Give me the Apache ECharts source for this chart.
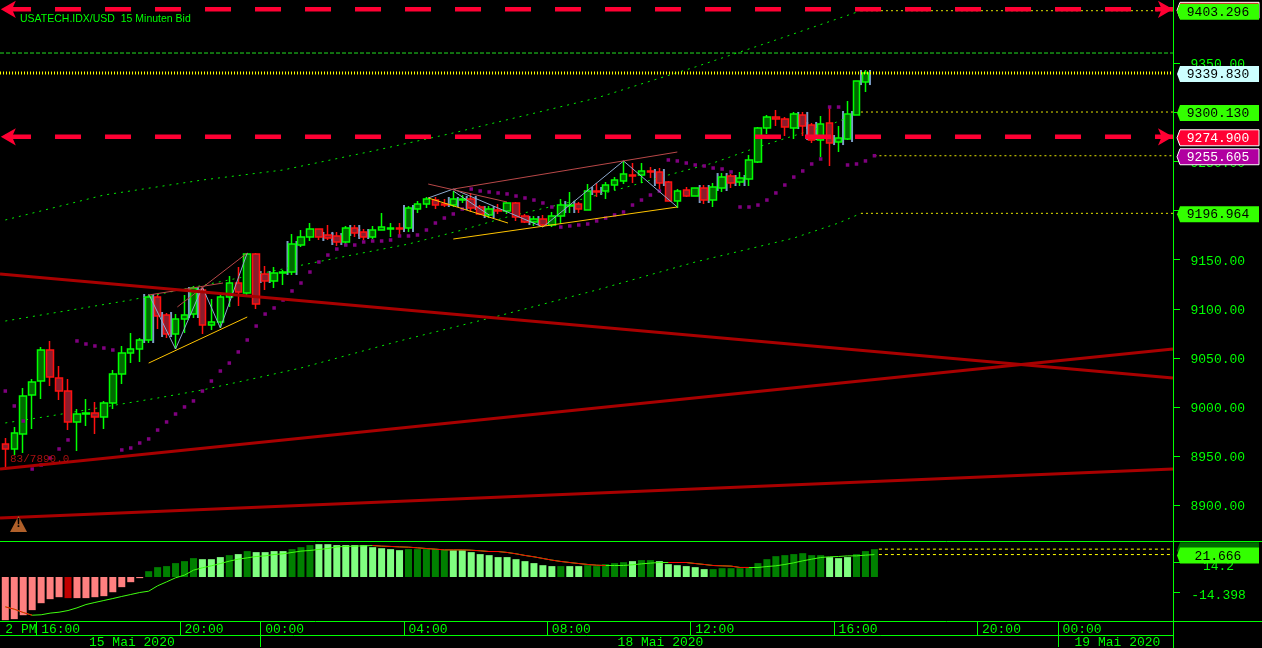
<!DOCTYPE html>
<html><head><meta charset="utf-8">
<style>html,body{margin:0;padding:0;background:#000;overflow:hidden}#c{width:1262px;height:648px}</style>
<script src="https://cdn.jsdelivr.net/npm/echarts@6/dist/echarts.min.js"></script>
</head><body><div id="c"></div>
<script>
// ---- data ----
const open = [8962.1,8957.0,8972.3,9012.0,9026.2,9057.8,9029.3,9016.0,8984.5,8992.6,8993.6,8989.6,9003.8,9033.4,9054.7,9058.8,9068.0,9111.8,9093.4,9074.1,9089.4,9094.4,9118.9,9083.3,9086.3,9111.8,9126.0,9115.8,9155.6,9135.2,9128.1,9136.2,9137.2,9164.7,9172.9,9181.0,9174.9,9173.9,9167.8,9182.0,9178.0,9172.9,9180.0,9181.0,9182.0,9182.0,9201.4,9206.5,9210.5,9206.5,9205.4,9210.5,9211.6,9203.4,9195.3,9200.4,9199.3,9207.5,9194.2,9188.1,9191.2,9185.1,9194.2,9204.4,9206.5,9200.4,9219.7,9219.7,9225.8,9229.9,9236.0,9236.0,9240.1,9239.1,9228.9,9209.5,9220.7,9214.6,9222.8,9210.5,9222.8,9235.0,9228.9,9231.9,9249.2,9283.9,9295.1,9293.0,9283.9,9297.1,9286.9,9271.6,9288.9,9269.6,9272.7,9297.1,9330.7];
const close = [8957.0,8973.3,9011.0,9025.2,9057.8,9030.3,9016.0,8984.5,8992.6,8993.6,8989.6,9003.8,9033.4,9054.7,9058.8,9068.0,9111.8,9092.4,9074.1,9089.4,9093.4,9120.9,9083.3,9086.3,9111.8,9126.0,9116.8,9155.6,9104.6,9128.1,9136.2,9137.2,9165.7,9172.9,9181.0,9172.9,9171.8,9167.8,9182.0,9176.9,9172.9,9180.0,9183.0,9182.0,9181.0,9202.4,9206.5,9211.6,9205.4,9205.4,9211.6,9211.6,9202.4,9196.3,9201.4,9199.3,9207.5,9193.2,9188.1,9191.2,9185.1,9194.2,9205.4,9205.4,9201.4,9219.7,9218.7,9225.8,9230.9,9237.0,9235.0,9240.1,9239.1,9227.8,9209.5,9219.7,9214.6,9222.8,9210.5,9223.8,9233.9,9227.8,9232.9,9251.3,9283.9,9295.1,9293.0,9284.9,9298.1,9285.9,9271.6,9287.9,9268.6,9273.7,9298.1,9331.7,9339.83];
const low = [8935.6,8950.9,8952.9,8977.3,9007.9,9021.1,9006.9,8976.3,8954.9,8980.4,8972.3,8977.3,8997.7,9023.2,9044.5,9045.6,9064.9,9079.2,9070.0,9058.8,9075.1,9090.4,9074.1,9078.2,9080.2,9101.6,9102.6,9113.8,9099.5,9118.9,9120.9,9124.0,9134.2,9162.7,9168.8,9169.8,9169.8,9163.7,9165.7,9172.9,9169.8,9170.8,9180.0,9172.9,9173.9,9178.0,9197.3,9202.4,9201.4,9203.4,9203.4,9207.5,9198.3,9195.3,9192.2,9196.3,9196.3,9189.2,9187.1,9184.1,9183.0,9183.0,9186.1,9197.3,9197.3,9200.4,9213.6,9211.6,9220.7,9226.8,9227.8,9227.8,9232.9,9221.7,9209.5,9202.4,9213.6,9214.6,9206.5,9203.4,9218.7,9222.8,9224.8,9224.8,9248.2,9277.7,9285.9,9275.7,9272.7,9275.7,9268.6,9254.3,9245.2,9259.4,9271.6,9297.1,9320.5];
const high = [8968.2,8979.4,9019.1,9028.3,9060.8,9067.0,9041.5,9028.3,8997.7,9007.9,9004.8,9005.9,9037.4,9061.9,9075.1,9070.0,9113.8,9113.8,9095.5,9094.4,9113.8,9123.0,9121.9,9109.7,9115.8,9133.1,9142.3,9156.6,9156.6,9143.3,9142.3,9139.3,9175.9,9180.0,9187.1,9181.0,9185.1,9178.0,9184.1,9185.1,9181.0,9184.1,9197.3,9187.1,9187.1,9204.4,9209.5,9213.6,9213.6,9211.6,9219.7,9215.6,9217.7,9205.4,9204.4,9206.5,9208.5,9208.5,9196.3,9194.2,9195.3,9198.3,9211.6,9218.7,9208.5,9226.8,9227.8,9228.9,9233.9,9250.3,9248.2,9248.2,9244.1,9243.1,9229.9,9221.7,9223.8,9222.8,9225.8,9227.8,9238.0,9237.0,9239.1,9256.4,9284.9,9297.1,9302.2,9295.1,9300.2,9300.2,9288.9,9296.1,9304.2,9285.9,9311.4,9331.7,9342.9];
const psar = [9016.0,9000.8,8985.5,8936.6,8940.7,8947.8,8957.0,8966.2,9067.0,9063.9,9061.9,9059.8,9057.8,8956.0,8958.0,8963.1,8967.2,8976.3,8984.5,8992.6,8999.8,9005.9,9016.0,9026.2,9036.4,9044.5,9055.8,9068.0,9082.2,9094.4,9100.6,9108.7,9117.9,9126.0,9137.2,9147.4,9154.5,9160.6,9164.7,9164.7,9167.8,9168.8,9168.8,9169.8,9173.9,9173.9,9174.9,9180.0,9187.1,9192.2,9196.3,9201.4,9221.7,9219.7,9218.7,9217.7,9216.7,9214.6,9212.6,9210.5,9207.5,9203.4,9183.0,9184.1,9185.1,9186.1,9189.2,9192.2,9195.3,9198.3,9205.4,9210.5,9215.6,9219.7,9251.3,9250.3,9248.2,9246.2,9245.2,9243.1,9242.1,9239.1,9203.4,9203.4,9205.4,9210.5,9217.7,9225.8,9233.9,9240.1,9247.2,9252.3,9305.2,9305.2,9246.2,9247.2,9250.3,9255.6];

const upperBand = [[0,9190.2],[11,9215.6],[22,9230.9],[31,9241.1],[41,9260.4],[50,9278.8],[55,9290.0],[66,9314.4],[77,9346.0],[86,9373.5],[95.5,9403.296]];
const middleBand = [[0,9087.3],[14,9108.7],[37,9151.5],[45,9165.7],[51,9180.0],[56,9193.2],[64,9210.5],[69,9222.8],[74,9236.0],[79,9248.2],[84,9264.5],[89,9278.8],[92,9286.9],[95.5,9300.13]];
const lowerBand = [[0,8983.5],[5,8990.6],[11,8999.8],[17,9008.9],[22,9017.1],[27,9027.2],[33,9039.5],[44,9067.0],[55,9092.4],[66,9118.9],[77,9147.4],[88,9171.8],[93,9187.1],[95.5,9196.964]];

const bracketIdx  = [16,18,21,29,32,36,37,39,40,45,50,52,54,59,63,66,73,78,80,82,89,90,93,94,96];
const bracketHigh = [9114.8,9096.5,9121.9,9138.2,9168.8,9178.0,9176.9,9185.1,9181.0,9205.4,9213.6,9214.6,9204.4,9194.2,9209.5,9223.8,9242.1,9225.8,9238.0,9236.0,9300.2,9290.0,9276.7,9301.2,9342.9];
const bracketLow  = [9064.9,9071.0,9090.4,9126.0,9134.2,9168.8,9164.7,9173.9,9170.8,9178.0,9203.4,9200.4,9192.2,9185.1,9197.3,9215.6,9224.8,9207.5,9219.7,9224.8,9282.8,9271.6,9266.5,9269.6,9327.6];

const zigzagA = [[16,9114.8],[19,9058.8],[22,9121.9],[24,9080.2],[27,9156.6]];
const zigzagB = [[47.2,9212.6],[50,9221.7],[60,9183.0],[69,9250.3],[75,9203.4]];
const zigzagC = [[50,9219.7],[54,9195.3]];
const yellowA = [[16,9044.5],[27,9091.4]];
const yellowB = [[47.2,9212.6],[56.1,9187.1]];
const yellowC = [[50,9170.8],[75,9203.4]];
const salmonA = [[16,9113.8],[24.3,9126.0]];
const salmonB = [[19.2,9101.6],[27,9156.6]];
const salmonC = [[47.2,9226.8],[56,9208.5]];
const salmonD = [[50,9221.7],[75,9259.4]];

const trendA = [[-0.59,9135.2],[130.32,9029.3]];
const trendB = [[-0.59,8936.6],[130.32,9058.8]];
const trendC = [[-0.59,8886.7],[130.32,8936.6]];

const axisEnd = 130.32;
const arrowLevels = [9404.7,9274.9];
const bidLevel = 9339.83;
const topLevel = 9360.2;
const rightLevels = [[95.5,9403.296],[95.5,9300.13],[97,9255.605],[95.5,9196.964]];

const histogram = [-41.7,-40.7,-36.9,-32.0,-25.3,-21.4,-19.5,-20.4,-20.4,-20.4,-19.5,-18.5,-14.7,-9.8,-5.0,-1.1,5.6,9.5,10.5,13.4,15.3,18.2,17.2,17.2,19.2,21.1,22.1,25.0,24.0,24.0,25.0,25.0,26.9,28.8,30.8,31.7,31.7,30.8,30.8,30.8,30.8,28.8,27.8,26.9,25.9,26.9,26.9,26.9,26.9,25.9,25.9,25.9,24.0,22.1,21.1,19.2,19.2,17.2,15.3,13.4,11.4,10.5,10.5,10.5,10.5,11.4,10.5,12.4,13.4,14.3,15.3,16.3,16.3,15.3,12.4,11.4,10.5,9.5,7.6,7.6,8.5,8.5,8.5,9.5,13.4,17.2,20.1,21.1,22.1,23.0,21.1,21.1,19.2,18.2,19.2,22.1,25.0,26.9];
const histDarkRed = [7];
const histLightGreen = [22,23,24,26,28,29,30,31,35,36,37,38,39,40,41,42,43,44,50,51,52,53,54,55,56,57,58,59,60,61,63,64,70,73,74,75,76,77,78,92,93,94];
const signal = [-28.8,-31.1,-34.3,-36.9,-36.5,-34.9,-34.0,-32.4,-29.8,-26.6,-24.6,-22.7,-20.8,-18.8,-16.9,-15.0,-13.7,-8.5,-4.7,-0.8,1.8,6.6,8.9,10.8,13.0,15.3,17.2,18.5,19.8,20.4,21.7,22.4,23.7,25.0,25.6,26.6,27.5,29.1,29.5,29.8,30.1,30.4,29.8,29.5,29.1,28.8,28.2,27.5,26.9,26.2,26.2,26.2,25.9,25.3,24.6,24.6,23.7,22.4,20.8,19.5,17.9,16.3,15.0,14.0,13.0,12.1,11.4,11.1,11.1,11.1,11.8,12.7,13.4,14.0,14.0,14.0,14.0,13.0,12.1,11.1,10.8,10.5,9.2,9.2,9.2,10.1,10.8,12.1,13.7,15.6,17.2,18.8,19.5,19.8,20.4,20.4,21.1,21.666];
const signalRedRanges = [[0,3],[41,67],[74,83]];
const subLevels = [26.9,21.666];

const timeTickIdx = [0,4,20,29,45,61,77,93,109,118];
const timeLabels = ['2 PM','16:00','20:00','00:00','04:00','08:00','12:00','16:00','20:00','00:00'];
const dateLabelIdx = [9,68,119];
const dateLabels = ['15 Mai 2020','18 Mai 2020','19 Mai 2020'];
const dateSepIdx = [29,118];
const priceTicks = [8900,8950,9000,9050,9100,9150,9200,9250,9300,9350];
const subTicks = [14.2,-14.398];

const tagValues = [9404.7,9403.296,9339.83,9300.13,9274.9,9255.605,9196.964];
const tagTexts = ['','9403.296','9339.830','9300.130','9274.900','9255.605','9196.964'];
const tagFills = ['#ff0033','#33ff00','#ccffff','#33ff00','#ff0033','#b000a0','#33ff00'];
const tagInks = ['#000','#000','#000','#000','#fff','#fff','#000'];
const tagBorders = ['#fff',null,null,null,'#fff','#fff',null];
const subTagValues = [26.9,21.666];
const subTagTexts = ['','21.666'];
const subTagFills = ['#006a00','#33ff00'];

// ---- styling ----
const LIME = '#00ff00', MONO = '"Liberation Mono","DejaVu Sans Mono",monospace';
const N = 131, BAND = 8.96, GRID_LEFT = 0.82, GRID_W = N * BAND;
const cats = Array.from({length:N},(_,i)=>{const k=timeTickIdx.indexOf(i);return k>=0?timeLabels[k]:'';});
const dateCats = Array.from({length:N},(_,i)=>{const k=dateLabelIdx.indexOf(i);return k>=0?dateLabels[k]:'';});
const ohlc = open.map((o,i)=>[o,close[i],low[i],high[i]]);

function line(data,color,width,type,z,extra){
  return Object.assign({type:'line',xAxisIndex:1,yAxisIndex:0,data,showSymbol:false,symbol:'none',silent:true,clip:false,
    lineStyle:{color,width,type:type||'solid',cap:'butt'},z:z||5,animation:false},extra||{});
}
function tagItem(fills,texts,inks,borders){
  return function(params,api){
    const i=params.dataIndex, c=api.coord([0,api.value(1)])[1]+1;
    const L=1177,M=1180,R=1259,H=8;
    const kids=[{type:'polygon',shape:{points:[[M,c-H],[R,c-H],[R,c+H],[M,c+H],[L,c]]},
      style:{fill:fills[i],stroke:borders&&borders[i]||null,lineWidth:1}}];
    if(texts[i]) kids.push({type:'text',style:{text:texts[i],x:1218,y:c+0.5,align:'center',verticalAlign:'middle',
      fill:inks?inks[i]:'#000',font:'13px '+MONO}});
    return {type:'group',children:kids};
  };
}
function tickItem(params,api){
  const y=Math.round(api.coord([0,api.value(1)])[1])+0.5;
  return {type:'line',shape:{x1:1173.5,y1:y,x2:1180,y2:y},style:{stroke:LIME,lineWidth:1}};
}

const series = [
  {type:'custom',xAxisIndex:0,yAxisIndex:0,z:2,silent:true,encode:{x:0,y:[1,2]},
   data:bracketIdx.map((k,i)=>[k,bracketLow[i],bracketHigh[i]]),
   renderItem(p,api){
     const a=api.coord([api.value(0),api.value(2)]),b=api.coord([api.value(0),api.value(1)]);
     const st={fill:'#7a9cc6'};
     return {type:'group',children:[
       {type:'rect',shape:{x:a[0]-5.5,y:a[1],width:2,height:b[1]-a[1]},style:st},
       {type:'rect',shape:{x:a[0]+3.5,y:a[1],width:2,height:b[1]-a[1]},style:st}]};
   }},
  {type:'candlestick',xAxisIndex:0,yAxisIndex:0,data:ohlc,barWidth:7,z:3,silent:true,
   itemStyle:{color:'#006a00',color0:'#8b1c2c',borderColor:LIME,borderColor0:'#ff1010',borderWidth:1.5}},
  {type:'scatter',xAxisIndex:0,yAxisIndex:0,data:psar,symbol:'rect',symbolSize:3.5,itemStyle:{color:'#800080',opacity:1},z:4,silent:true},

  line(upperBand,'#00ee00',1,[2,5],3),
  line(middleBand,'#00ee00',1,[2,5],3),
  line(lowerBand,'#00ee00',1,[2,5],3),

  line(zigzagA,'#8fa9cf',1,null,5),line(zigzagB,'#8fa9cf',1,null,5),line(zigzagC,'#8fa9cf',1,null,5),
  line(yellowA,'#ffc400',1,null,5),line(yellowB,'#ffc400',1,null,5),line(yellowC,'#ffc400',1,null,5),
  line(salmonA,'#b84848',1,null,5),line(salmonB,'#b84848',1,null,5),line(salmonC,'#b84848',1,null,5),line(salmonD,'#b84848',1,null,5),

  line(trendA,'#a80000',3,null,6),line(trendB,'#a80000',3,null,6),line(trendC,'#a80000',3,null,6),

  line([[-0.59,topLevel],[axisEnd,topLevel]],'#22dd22',1,[4,2],2),
  line([[-0.59,bidLevel],[axisEnd,bidLevel]],'#ffff00',3,[1,2],7),
  ...rightLevels.map(l=>line([l,[axisEnd,l[1]]],'#e4e400',1,[2,3],2)),

  ...arrowLevels.map(v=>line([[-0.59,v],[axisEnd,v]],'#ff0033',4.5,[26,24],8,{
    lineStyle:{color:'#ff0033',width:4.5,type:[26,24],dashOffset:45,cap:'butt'},
    markPoint:{silent:true,animation:false,z:8,label:{show:false},itemStyle:{color:'#ff0033'},
      symbol:'arrow',symbolSize:[13,15],
      data:[{coord:[-0.5,v],symbolRotate:90},{coord:[axisEnd,v],symbolRotate:-90}]}
  })),

  {type:'custom',xAxisIndex:0,yAxisIndex:0,z:19,silent:true,clip:false,encode:{y:1},data:priceTicks.map(v=>[0,v]),renderItem:tickItem},
  {type:'custom',xAxisIndex:0,yAxisIndex:0,z:20,silent:true,clip:false,encode:{y:1},
   data:tagValues.map(v=>[0,v]),renderItem:tagItem(tagFills,tagTexts,tagInks,tagBorders)},

  // sub-window
  {type:'bar',xAxisIndex:2,yAxisIndex:1,data:histogram,barWidth:7,silent:true,z:2,
   itemStyle:{color(p){const i=p.dataIndex,v=p.value;
     if(v<0) return histDarkRed.includes(i)?'#c00000':'#ff8080';
     return histLightGreen.includes(i)?'#80ff80':'#008000';}}},
  {type:'line',xAxisIndex:2,yAxisIndex:1,data:signal,showSymbol:false,symbol:'none',silent:true,z:3,
   lineStyle:{color:'#40ff10',width:1}},
  {type:'line',xAxisIndex:2,yAxisIndex:1,showSymbol:false,symbol:'none',silent:true,z:4,connectNulls:false,
   data:signal.map((v,i)=>signalRedRanges.some(r=>i>=r[0]&&i<=r[1])?v:null),lineStyle:{color:'#ff0000',width:1}},
  ...subLevels.map(v=>({type:'line',xAxisIndex:3,yAxisIndex:1,data:[[97.5,v],[axisEnd,v]],showSymbol:false,symbol:'none',silent:true,clip:false,z:3,
    lineStyle:{color:'#ffff00',width:1,type:[3,3]}})),
  {type:'custom',xAxisIndex:2,yAxisIndex:1,z:19,silent:true,clip:false,encode:{y:1},data:subTicks.map(v=>[0,v]),renderItem:tickItem},
  {type:'custom',xAxisIndex:2,yAxisIndex:1,z:20,silent:true,clip:false,encode:{y:1},
   data:subTagValues.map(v=>[0,v]),renderItem:tagItem(subTagFills,subTagTexts)}
];

const hiddenX = (g,type,extra)=>Object.assign({gridIndex:g,type,show:false},extra);
const option = {
  backgroundColor:'#000',animation:false,
  title:{text:'USATECH.IDX/USD  15 Minuten Bid',left:20,top:14,padding:0,textStyle:{color:LIME,fontFamily:'"Liberation Sans",Arial,sans-serif',fontSize:10.5,fontWeight:'normal'}},
  grid:[
    {left:GRID_LEFT,top:0,width:GRID_W,height:541},
    {left:GRID_LEFT,top:542,width:GRID_W,height:79},
    {left:GRID_LEFT,top:621.5,width:GRID_W,height:14},
    {left:GRID_LEFT,top:635.5,width:GRID_W,height:13}
  ],
  xAxis:[
    hiddenX(0,'category',{data:cats}),
    hiddenX(0,'value',{min:-0.5,max:130.5}),
    hiddenX(1,'category',{data:cats}),
    hiddenX(1,'value',{min:-0.5,max:130.5}),
    {gridIndex:2,type:'category',data:cats,position:'top',axisLine:{show:false},axisTick:{show:false},
     splitLine:{show:true,interval:(i,v)=>v!==''&&i!==0,lineStyle:{color:LIME,width:1}},
     axisLabel:{show:true,inside:true,margin:2,interval:(i,v)=>v!=='',align:'left',verticalAlign:'top',hideOverlap:false,
       color:LIME,fontFamily:MONO,fontSize:13,formatter:v=>v}},
    {gridIndex:3,type:'category',data:dateCats,position:'top',axisLine:{show:false},axisTick:{show:false},
     splitLine:{show:true,interval:i=>dateSepIdx.includes(i),lineStyle:{color:LIME,width:1}},
     axisLabel:{show:true,inside:true,margin:1,interval:(i,v)=>v!=='',align:'left',verticalAlign:'top',padding:[0,0,0,3],hideOverlap:false,
       color:LIME,fontFamily:MONO,fontSize:13,formatter:v=>v}}
  ],
  yAxis:[
    {gridIndex:0,type:'value',position:'right',offset:-1.1,min:9414.2-1.0183*541,max:9414.2,scale:true,
     axisLine:{show:false},splitLine:{show:false},axisTick:{show:false},
     axisLabel:{show:true,customValues:priceTicks,margin:17,align:'left',verticalAlign:'top',lineHeight:4,showMinLabel:true,showMaxLabel:true,
       color:LIME,fontFamily:MONO,fontSize:13,formatter:v=>Number(v).toFixed(2)}},
    {gridIndex:1,type:'value',position:'right',offset:-1.1,min:-42.5,max:33.8,scale:true,
     axisLine:{show:false},splitLine:{show:false},axisTick:{show:false},
     axisLabel:{show:true,customValues:subTicks,margin:45,align:'center',verticalAlign:'top',lineHeight:8,
       color:LIME,fontFamily:MONO,fontSize:13,formatter:v=>String(v)}},
    {gridIndex:2,type:'value',show:false},
    {gridIndex:3,type:'value',show:false}
  ],
  graphic:[
    {type:'rect',z:29,silent:true,shape:{x:1174,y:622,width:3,height:26},style:{fill:'#000'}},
    {type:'line',z:30,silent:true,shape:{x1:0,y1:541.5,x2:1262,y2:541.5},style:{stroke:LIME,lineWidth:1}},
    {type:'line',z:30,silent:true,shape:{x1:0,y1:621.5,x2:1262,y2:621.5},style:{stroke:LIME,lineWidth:1}},
    {type:'line',z:30,silent:true,shape:{x1:0,y1:635.5,x2:1173.5,y2:635.5},style:{stroke:LIME,lineWidth:1}},
    {type:'line',z:30,silent:true,shape:{x1:1173.5,y1:0,x2:1173.5,y2:648},style:{stroke:LIME,lineWidth:1}},
    {type:'text',z:30,silent:true,x:10,y:454,style:{text:'83/7890.0',fill:'#a81010',font:'11px '+MONO}},
    {type:'polygon',z:30,silent:true,shape:{points:[[18.5,516],[27,532],[10,532]]},style:{fill:'#b0602a'}},
    {type:'text',z:31,silent:true,x:16.5,y:518,style:{text:'!',fill:'#000',font:'bold 12px "Liberation Sans"'}}
  ],
  series
};
echarts.init(document.getElementById('c'),null,{renderer:'canvas'}).setOption(option);
</script></body></html>
